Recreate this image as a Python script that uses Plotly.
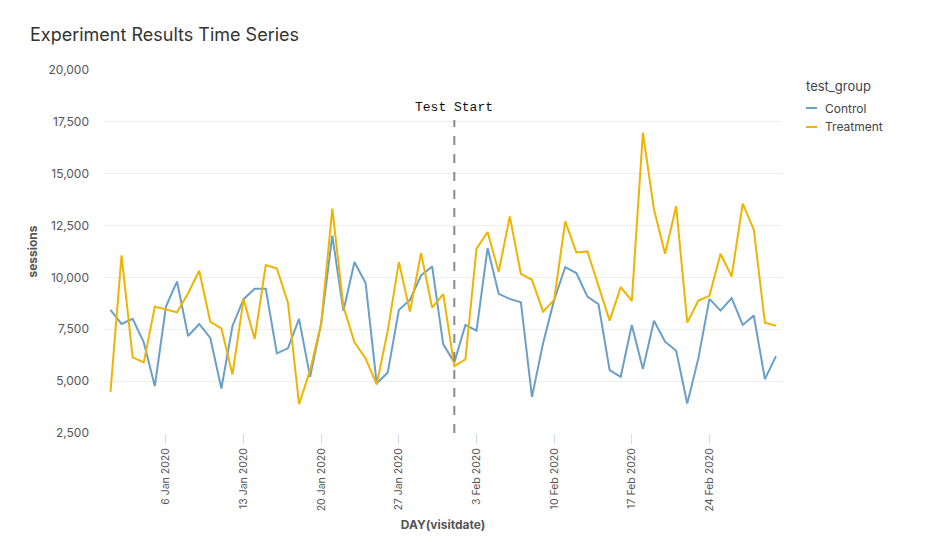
import pandas as pd
import plotly.graph_objects as go

dates = pd.date_range("2020-01-01", "2020-03-01", freq="D")

control = [8434, 7757, 8000, 6872, 4758, 8593, 9802, 7176, 7757, 7080,
           4647, 7660, 8951, 9450, 9450, 6340, 6580, 8000, 5208, 7790,
           12013, 8385, 10740, 9725, 4889, 5421, 8434, 8917, 10093, 10528,
           6775, 5905, 7708, 7433, 11418, 9208, 8966, 8805, 4241, 6823,
           8917, 10499, 10209, 9077, 8709, 5532, 5208, 7708, 5580, 7916,
           6901, 6466, 3922, 6098, 8966, 8400, 9000, 7708, 8158, 5097,
           6209]

treatment = [4483, 11060, 6146, 5905, 8593, 8467, 8322, 9241, 10320, 7854,
             7548, 5324, 8951, 7031, 10596, 10431, 8787, 3888, 5532, 7790,
             13318, 8593, 6872, 6098, 4840, 7433, 10740, 8351, 11176, 8545,
             9193, 5726, 6050, 11384, 12190, 10257, 12946, 10175, 9885, 8351,
             8917, 12704, 11205, 11253, 9560, 7916, 9532, 8869, 16979, 13270,
             11142, 13430, 7820, 8883, 9111, 11142, 10044, 13560, 12302, 7820,
             7675]

series_names = ["Control", "Treatment"]
series_colors = ["#6a9fc8", "#f0b400"]
legend_title = "test_group"
test_start = "2020-02-01"

fig = go.Figure()
for name, vals, col in zip(series_names, [control, treatment], series_colors):
    fig.add_trace(go.Scatter(x=dates, y=vals, mode="lines", name=name,
                             line=dict(color=col, width=2), showlegend=False))

fig.add_shape(type="line", xref="x", yref="paper", x0=test_start, x1=test_start,
              y0=0, y1=0.862, line=dict(color="#8a8a8a", width=2, dash="dash"))
fig.add_annotation(x=test_start, y=0.898, xref="x", yref="paper", text="Test Start",
                   showarrow=False, xanchor="center", yanchor="middle",
                   font=dict(family="Liberation Mono", size=13, color="#111"))

# compact legend (short line swatches)
fig.add_annotation(x=1.0324, y=0.956, xref="paper", yref="paper", text=legend_title,
                   showarrow=False, xanchor="left", yanchor="middle",
                   font=dict(size=13, color="#444"))
for i, (name, col) in enumerate(zip(series_names, series_colors)):
    yy = 0.8953 - i * 0.0523
    fig.add_shape(type="line", xref="paper", yref="paper", x0=1.0354, x1=1.0516,
                  y0=yy, y1=yy, line=dict(color=col, width=2))
    fig.add_annotation(x=1.0605, y=yy, xref="paper", yref="paper", text=name,
                       showarrow=False, xanchor="left", yanchor="middle",
                       font=dict(size=12, color="#444"))

fig.update_layout(
    width=926, height=558,
    margin=dict(l=96, r=152, t=62, b=133),
    paper_bgcolor="white", plot_bgcolor="white",
    showlegend=False,
    font=dict(family="Inter, Lato, sans-serif", color="#555"),
    title=dict(text="Experiment Results Time Series", x=22/926, xanchor="left",
               y=1 - 27/558, yanchor="middle",
               font=dict(size=18, color="#333")),
    xaxis=dict(range=["2019-12-31 10:00", "2020-03-01 13:00"],
               tick0="2020-01-06", dtick=7 * 24 * 3600 * 1000,
               tickformat="%-d %b %Y", tickangle=-90,
               showgrid=False, zeroline=False, showline=False,
               ticks="outside", ticklen=10, tickcolor="#d5dcec",
               tickfont=dict(size=10.5, color="#555"),
               title=dict(text="<b>DAY(visitdate)</b>", font=dict(size=12, color="#555"), standoff=10)),
    yaxis=dict(range=[2500, 20000], dtick=2500, tickformat=",",
               showgrid=True, gridcolor="#eeeeee", zeroline=False, showline=False,
               ticks="", ticklabelstandoff=14,
               tickfont=dict(size=12, color="#555"),
               title=dict(text="<b>sessions</b>", font=dict(size=12, color="#555"), standoff=8)),
)

fig.write_html("out.html")
